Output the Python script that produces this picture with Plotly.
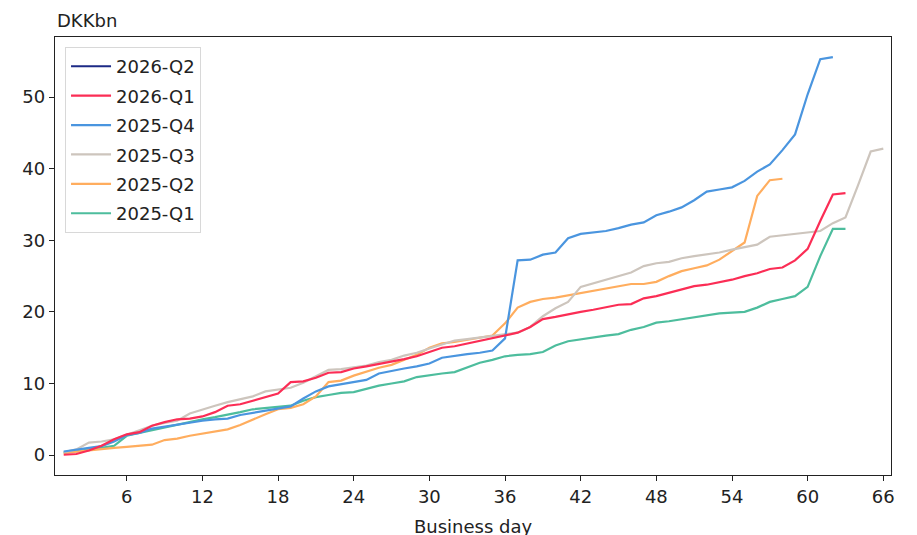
import plotly.graph_objects as go

# ---- data ----
q1_2025 = [0.3, 0.5, 0.8, 1.0, 1.3, 2.7, 3.1, 3.5, 3.9, 4.3, 4.7, 5.0, 5.3, 5.6, 6.0, 6.4, 6.6, 6.8, 6.9, 7.6,
           8.1, 8.4, 8.7, 8.8, 9.3, 9.7, 10.0, 10.3, 10.9, 11.2, 11.4, 11.6, 12.3, 12.9, 13.3, 13.8, 14.0, 14.1, 14.4, 15.3,
           15.9, 16.2, 16.5, 16.7, 16.9, 17.5, 17.9, 18.5, 18.7, 19.0, 19.3, 19.6, 19.8, 19.9, 20.0, 20.6, 21.4, 21.8, 22.2, 23.5,
           27.8, 31.6, 31.6]
q2_2025 = [0.3, 0.5, 0.7, 0.85, 1.0, 1.15, 1.3, 1.45, 2.1, 2.3, 2.7, 3.0, 3.4, 3.6, 4.2, 5.0, 5.7, 6.4, 6.6, 7.1,
           8.2, 10.2, 10.4, 11.1, 11.7, 12.2, 12.6, 13.3, 14.0, 15.0, 15.6, 15.8, 16.1, 16.4, 16.7, 18.4, 20.6, 21.4, 21.8, 22.0,
           22.3, 22.7, 22.9, 23.2, 23.5, 23.9, 23.9, 24.2, 25.0, 25.7, 26.1, 26.5, 27.3, 28.5, 29.7, 36.2, 38.4, 38.6]
q3_2025 = [0.4, 0.8, 1.75, 1.9, 2.2, 2.8, 3.4, 4.1, 4.5, 4.8, 5.8, 6.4, 6.9, 7.4, 7.8, 8.2, 8.9, 9.1, 9.4, 10.1,
           11.0, 11.9, 12.0, 12.3, 12.5, 13.0, 13.3, 13.9, 14.3, 14.9, 15.5, 16.0, 16.2, 16.4, 16.7, 16.9, 17.1, 17.9, 19.4, 20.5,
           21.4, 23.5, 24.0, 24.4, 24.9, 25.5, 26.4, 26.8, 27.0, 27.5, 27.8, 28.0, 28.3, 28.7, 29.0, 29.4, 30.5, 30.7, 30.8, 31.0,
           31.3, 32.4, 33.2, 37.7, 42.4, 42.8]
q4_2025 = [0.5, 0.7, 1.0, 1.25, 1.9, 2.8, 3.1, 3.7, 4.0, 4.2, 4.5, 4.8, 5.0, 5.1, 5.6, 5.9, 6.2, 6.5, 6.8, 7.9,
           8.9, 9.6, 9.9, 10.3, 10.5, 11.4, 11.8, 12.1, 12.4, 12.8, 13.6, 13.9, 14.1, 14.3, 14.6, 16.3, 27.2, 27.3, 28.0, 28.3,
           30.3, 30.9, 31.1, 31.3, 31.7, 32.2, 32.5, 33.5, 34.0, 34.6, 35.6, 36.8, 37.1, 37.4, 38.3, 39.6, 40.6, 42.6, 44.8, 50.4,
           55.3, 55.6]
q1_2026 = [0.05, 0.15, 0.65, 1.3, 2.2, 2.9, 3.2, 4.1, 4.6, 5.0, 5.1, 5.4, 6.0, 6.9, 7.1, 7.6, 8.1, 8.6, 10.2, 10.3,
           10.8, 11.5, 11.6, 12.1, 12.4, 12.7, 13.1, 13.4, 13.8, 14.4, 15.0, 15.2, 15.6, 16.0, 16.4, 16.7, 17.1, 17.9, 19.0, 19.3,
           19.7, 20.0, 20.3, 20.7, 21.0, 21.1, 21.9, 22.2, 22.7, 23.1, 23.6, 23.8, 24.1, 24.5, 25.0, 25.4, 26.0, 26.2, 27.2, 28.8,
           32.7, 36.4, 36.6]
q2_2026 = []

series_names = ["2025-Q1", "2025-Q2", "2025-Q3", "2025-Q4", "2026-Q1", "2026-Q2"]
series_values = [q1_2025, q2_2025, q3_2025, q4_2025, q1_2026, q2_2026]
series_colors = ["#4dbd9d", "#ffad5e", "#cdc5bd", "#4a95df", "#fb2d55", "#1c2a86"]

x_ticks = [6, 12, 18, 24, 30, 36, 42, 48, 54, 60, 66]
y_ticks = [0, 10, 20, 30, 40, 50]

FONT = "DejaVu Sans"
FS = 18

fig = go.Figure()
n = len(series_names)
for i, (name, vals, col) in enumerate(zip(series_names, series_values, series_colors)):
    xs = list(range(1, len(vals) + 1)) if vals else [None]
    ys = vals if vals else [None]
    fig.add_trace(go.Scatter(x=xs, y=ys, mode="lines", name=name, legendgroup=name,
                             legendrank=n - i,
                             line=dict(color=col, width=2.2)))

axis_common = dict(showline=True, linecolor="#222", linewidth=1.3, mirror=True,
                   ticks="outside", ticklen=5, tickcolor="#222", tickwidth=1.2,
                   showgrid=False, zeroline=False, automargin=False,
                   tickfont=dict(family=FONT, size=FS, color="#222"))

# page body has an 8px margin, so the margins are offset by 8px
fig.update_layout(
    width=917, height=535,
    margin=dict(l=47, r=34, t=29, b=68),
    paper_bgcolor="white", plot_bgcolor="white",
    font=dict(family=FONT, color="#222"),
    xaxis=dict(range=[0.31, 66.61], tickvals=x_ticks,
               title=dict(text="Business day", font=dict(size=FS, family=FONT), standoff=14),
               **axis_common),
    yaxis=dict(range=[-2.78, 58.4], tickvals=y_ticks, **axis_common),
    legend=dict(x=0.012, y=0.977, xanchor="left", yanchor="top",
                traceorder="grouped", bgcolor="rgba(255,255,255,0.8)",
                bordercolor="#d8d8d8", borderwidth=1,
                font=dict(family=FONT, size=FS, color="#222"),
                tracegroupgap=3, itemwidth=40),
    showlegend=True,
    annotations=[dict(text="DKKbn", xref="paper", yref="paper", x=0, y=1,
                      xanchor="left", yanchor="bottom", yshift=4, showarrow=False,
                      font=dict(family=FONT, size=FS, color="#222"))],
)

fig.write_html("out.html")
